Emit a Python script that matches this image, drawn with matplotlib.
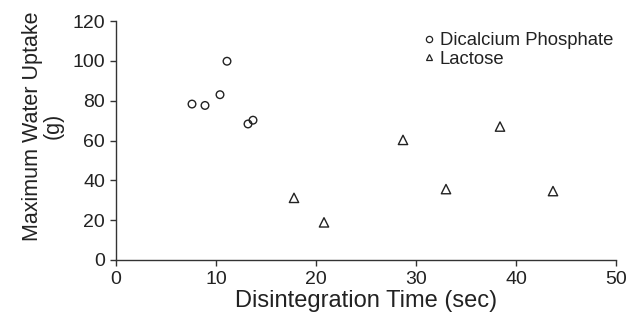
import matplotlib.pyplot as plt
from matplotlib.lines import Line2D

plt.rcParams['font.family'] = ['Liberation Sans', 'DejaVu Sans']

# data
dcp_time = [7.6, 8.9, 10.4, 11.1, 13.2, 13.7]
dcp_uptake = [78.3, 77.6, 83.0, 99.8, 68.3, 70.2]
lac_time = [17.8, 20.8, 28.7, 33.0, 38.4, 43.7]
lac_uptake = [31.2, 18.9, 60.3, 35.6, 67.0, 34.6]

xticks = [0, 10, 20, 30, 40, 50]
yticks = [0, 20, 40, 60, 80, 100, 120]

txt = '#222222'
fig = plt.figure(figsize=(6.26, 3.2), dpi=100)
ax = fig.add_axes([116/626, 1 - 260/320, 500/626, 239/320])

ax.scatter(dcp_time, dcp_uptake, marker='o', s=30, facecolors='none',
           edgecolors='#222222', linewidths=1.0, label='Dicalcium Phosphate')
ax.scatter(lac_time, lac_uptake, marker='^', s=45, facecolors='none',
           edgecolors='#222222', linewidths=1.0, label='Lactose')

ax.set_xlim(0, 50)
ax.set_ylim(0, 120)
ax.set_xticks(xticks)
ax.set_yticks(yticks)
for s in ['top', 'right']:
    ax.spines[s].set_visible(False)
for s in ['left', 'bottom']:
    ax.spines[s].set_color('#333333')
    ax.spines[s].set_linewidth(1.0)
ax.tick_params(colors='#333333', labelcolor=txt, labelsize=14, length=4, width=1.0,
               pad=4)

ax.set_xlabel('Disintegration Time (sec)', fontsize=17, color=txt, labelpad=1)
ax.set_ylabel('Maximum Water Uptake\n(g)', fontsize=15.5, color=txt,
              linespacing=1.0)
# label sits a bit above the axis centre in the reference
ax.yaxis.set_label_coords(-0.104, 0.56)

handles = [
    Line2D([], [], marker='o', ls='none', mfc='none', mec='#222222', ms=4.5, mew=0.9),
    Line2D([], [], marker='^', ls='none', mfc='none', mec='#222222', ms=5, mew=0.9),
]
leg = ax.legend(handles, ['Dicalcium Phosphate', 'Lactose'], loc='upper left',
                bbox_to_anchor=(0.585, 1.0), frameon=False, fontsize=13.3,
                handletextpad=0.1, labelspacing=0.1, handlelength=1.0,
                borderaxespad=0.2)
for t in leg.get_texts():
    t.set_color(txt)

fig.savefig('out.png', dpi=100)
